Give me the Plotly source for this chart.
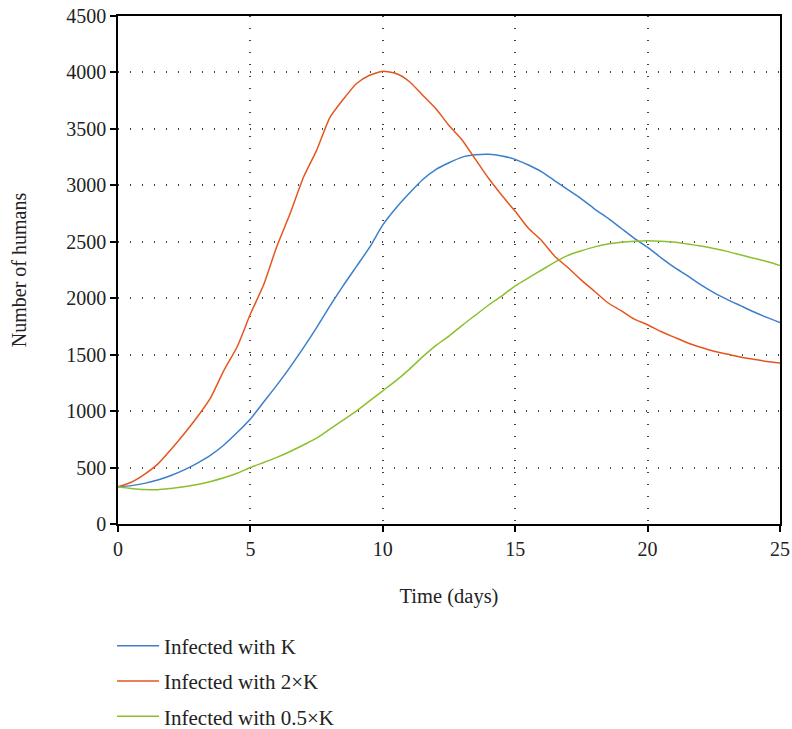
import plotly.graph_objects as go

days = [i * 0.5 for i in range(51)]

infected_k = [330, 340, 360, 390, 430, 480, 540, 610, 700, 810,
              930, 1080, 1230, 1390, 1560, 1740, 1930, 2110, 2280, 2450,
              2650, 2800, 2930, 3050, 3140, 3200, 3250, 3270, 3275, 3260,
              3230, 3180, 3120, 3040, 2960, 2880, 2790, 2710, 2620, 2530,
              2450, 2360, 2275, 2200, 2120, 2050, 1990, 1935, 1880, 1830,
              1785]

infected_2k = [330, 370, 440, 530, 660, 800, 950, 1120, 1360, 1570,
               1860, 2120, 2460, 2750, 3070, 3310, 3600, 3760, 3900, 3975,
               4010, 3990, 3920, 3800, 3680, 3530, 3400, 3230, 3060, 2910,
               2770, 2620, 2510, 2370, 2270, 2160, 2060, 1960, 1890, 1815,
               1765, 1705, 1655, 1605, 1565, 1530, 1505, 1480, 1460, 1440,
               1425]

infected_05k = [330, 315, 305, 303, 315, 330, 350, 377, 410, 450,
                500, 545, 590, 642, 700, 760, 840, 920, 1000, 1090,
                1180, 1270, 1370, 1480, 1580, 1665, 1760, 1850, 1940, 2020,
                2110, 2180, 2250, 2320, 2380, 2420, 2455, 2480, 2495, 2505,
                2510, 2505, 2497, 2480, 2462, 2440, 2415, 2385, 2355, 2325,
                2290]

series_names = ["Infected with K", "Infected with 2×K", "Infected with 0.5×K"]
series_values = [infected_k, infected_2k, infected_05k]
colors = ["#3c7fca", "#e4561f", "#8cbf2e"]

x_ticks = [0, 5, 10, 15, 20, 25]
y_ticks = [0, 500, 1000, 1500, 2000, 2500, 3000, 3500, 4000, 4500]

font_family = "Liberation Serif, DejaVu Serif, serif"
fs = 20

fig = go.Figure()
for name, vals, col in zip(series_names, series_values, colors):
    fig.add_trace(go.Scatter(
        x=days, y=vals, mode="lines", name=name, legendgroup=name,
        line=dict(color=col, width=1.5, shape="spline", smoothing=0.6),
    ))

axis_common = dict(
    showline=True, linecolor="black", linewidth=1.5, mirror=True,
    ticks="outside", ticklen=6, tickwidth=1.5, tickcolor="black",
    showgrid=True, gridcolor="#444444", griddash="1px,11px", gridwidth=1.5,
    zeroline=False, tickfont=dict(family=font_family, size=fs, color="#222"),
    automargin=False,
)

fig.update_layout(
    width=792, height=729,
    margin=dict(l=118, r=12, t=16, b=205, autoexpand=False),
    plot_bgcolor="white", paper_bgcolor="white",
    font=dict(family=font_family, size=fs, color="#222"),
    xaxis=dict(range=[0, 25], tickvals=x_ticks,
               title=dict(text="Time (days)", standoff=30,
                          font=dict(family=font_family, size=20.5)),
               **axis_common),
    yaxis=dict(range=[0, 4500], tickvals=y_ticks,
               title=dict(text="Number of humans", standoff=34,
                          font=dict(family=font_family, size=fs)),
               **axis_common),
    legend=dict(x=-0.009, y=-0.2, xanchor="left", yanchor="top",
                orientation="v", tracegroupgap=5, itemwidth=42,
                font=dict(family=font_family, size=21, color="#222"),
                bgcolor="rgba(0,0,0,0)"),
    showlegend=True,
)

fig.write_html("out.html", config={"displayModeBar": False},
               post_script="document.body.style.margin='0px';")
